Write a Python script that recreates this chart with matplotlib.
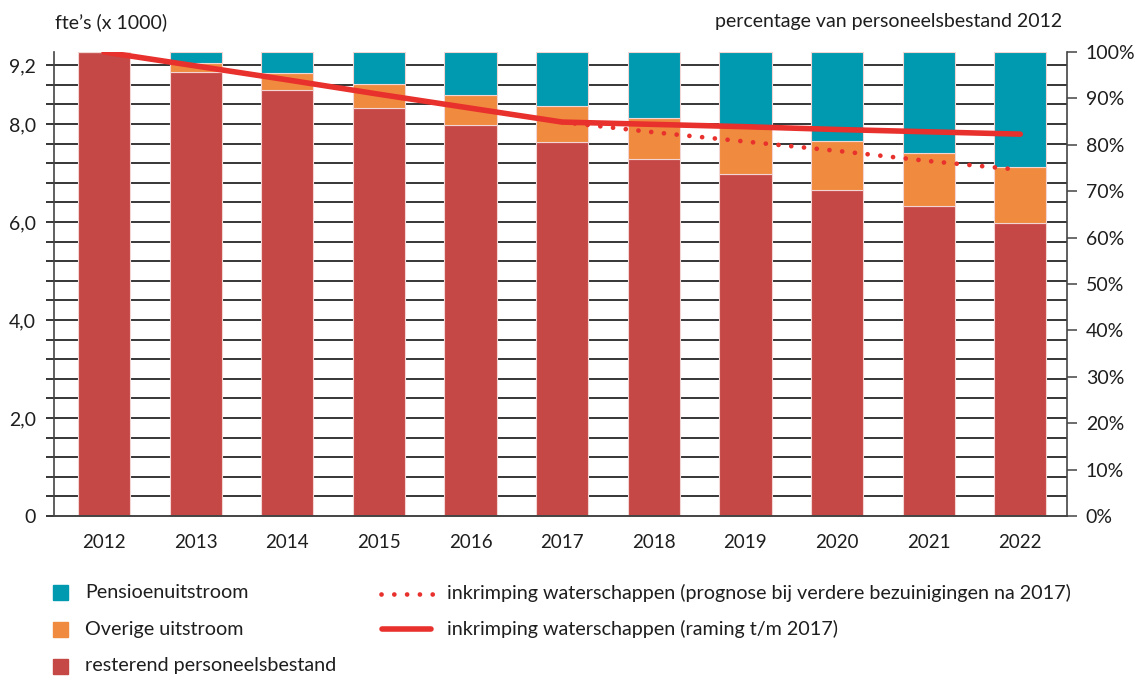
import matplotlib
matplotlib.use("Agg")
import matplotlib.pyplot as plt
import matplotlib.patches as mpatches
from matplotlib.lines import Line2D
import numpy as np

plt.rcParams['font.family'] = ['Lato', 'DejaVu Sans']

years = ['2012', '2013', '2014', '2015', '2016', '2017', '2018', '2019', '2020', '2021', '2022']
# fte's (x 1000)
resterend = [9.47, 9.07, 8.69, 8.33, 7.98, 7.63, 7.29, 6.97, 6.65, 6.33, 5.99]
overige = [0.00, 0.18, 0.35, 0.48, 0.61, 0.74, 0.84, 0.97, 1.00, 1.08, 1.14]
pensioen = [0.00, 0.22, 0.43, 0.66, 0.88, 1.10, 1.34, 1.53, 1.82, 2.06, 2.34]
# percentage of 2012 staff
raming = [100, 97.0, 94.0, 90.9, 87.9, 84.9, 84.4, 83.9, 83.3, 82.8, 82.3]
prognose_years = ['2017', '2018', '2019', '2020', '2021', '2022']
prognose = [84.9, 82.7, 80.7, 78.7, 76.5, 74.6]

left_ticks = [0, 2.0, 4.0, 6.0, 8.0, 9.2]
left_labels = ['0', '2,0', '4,0', '6,0', '8,0', '9,2']
right_ticks = list(range(0, 101, 10))

c_pens = '#009AB0'
c_over = '#F08A3E'
c_rest = '#C54846'
c_line = '#E8302C'
txt_c = '#1e1e1e'

W, H = 1134, 677
fig = plt.figure(figsize=(W / 100, H / 100), dpi=100)


def fx(px):
    return px / W


def fy(py):
    return 1 - py / H


ax = fig.add_axes([fx(54), fy(516), fx(1067) - fx(54), fy(52) - fy(516)])
x = np.arange(len(years))
bw = 0.57
edge = dict(edgecolor='#f3d6d4', linewidth=0.8)
ax.bar(x, resterend, bw, color=c_rest, zorder=2, **edge)
bottom2 = np.array(resterend)
ax.bar(x, overige, bw, bottom=bottom2, color=c_over, zorder=2, **edge)
bottom3 = bottom2 + np.array(overige)
ax.bar(x, pensioen, bw, bottom=bottom3, color=c_pens, zorder=2, **edge)

ax.set_xlim(-0.546, 10.51)
ax.set_ylim(0, 9.47)
ax.set_xticks(x)
ax.set_xticklabels(years, fontsize=13.5, color=txt_c)
ax.tick_params(axis='x', length=0, pad=13)

grid = np.round(np.arange(0.4, 9.21, 0.4), 2)
for g in grid:
    ax.axhline(g, color='black', lw=1.1, zorder=1)
allticks = np.round(np.arange(0, 9.21, 0.4), 2)
ax.set_yticks(allticks)
labs = []
for t in allticks:
    lab = ''
    for lt, ll in zip(left_ticks, left_labels):
        if abs(t - lt) < 1e-6:
            lab = ll
    labs.append(lab)
ax.set_yticklabels(labs, fontsize=14, color=txt_c)
ax.tick_params(axis='y', length=6, width=1.1, color='black', pad=7, direction='out')

for s in ['top', 'right']:
    ax.spines[s].set_visible(False)
ax.spines['left'].set_color('#444444')
ax.spines['left'].set_linewidth(1.2)
ax.spines['bottom'].set_color('#444444')
ax.spines['bottom'].set_linewidth(1.4)

ax2 = ax.twinx()
ax2.set_ylim(0, 100)
ax2.set_yticks(right_ticks)
ax2.set_yticklabels([f'{t}%' for t in right_ticks], fontsize=14, color=txt_c)
ax2.tick_params(axis='y', length=7.5, width=1.1, color='#444444', pad=6)
for s in ['top', 'left', 'bottom']:
    ax2.spines[s].set_visible(False)
ax2.spines['right'].set_color('#444444')
ax2.spines['right'].set_linewidth(1.2)

px = [years.index(y) for y in prognose_years]
ax2.plot(px, prognose, color=c_line, lw=3.4, linestyle=(0, (0.01, 2.7)),
         dash_capstyle='round', zorder=4)
ax2.plot(x, raming, color=c_line, lw=4, solid_capstyle='round', zorder=5)

fig.text(fx(55), fy(22), "fte’s (x 1000)", fontsize=14, color=txt_c, va='center', ha='left')
fig.text(fx(1062), fy(22), 'percentage van personeelsbestand 2012', fontsize=14,
         color=txt_c, va='center', ha='right')

# legend
leg_fs = 14.2
leg_items = [(c_pens, 'Pensioenuitstroom', 592),
             (c_over, 'Overige uitstroom', 629),
             (c_rest, 'resterend personeelsbestand', 666)]
for col, lab, yc in leg_items:
    fig.add_artist(mpatches.Rectangle((fx(53), fy(yc + 7.5)), fx(15), 15 / H,
                                      transform=fig.transFigure, color=col))
    fig.text(fx(85), fy(yc), lab, fontsize=leg_fs, color=txt_c, va='center', ha='left')

fig.add_artist(Line2D([fx(381), fx(434)], [fy(594), fy(594)], transform=fig.transFigure,
                      color=c_line, lw=3.4, linestyle=(0, (0.01, 2.7)), dash_capstyle='round'))
fig.text(fx(447), fy(593), 'inkrimping waterschappen (prognose bij verdere bezuinigingen na 2017)',
         fontsize=leg_fs, color=txt_c, va='center', ha='left')
fig.add_artist(Line2D([fx(382), fx(431)], [fy(629), fy(629)], transform=fig.transFigure,
                      color=c_line, lw=4, solid_capstyle='round'))
fig.text(fx(447), fy(629), 'inkrimping waterschappen (raming t/m 2017)',
         fontsize=leg_fs, color=txt_c, va='center', ha='left')

fig.savefig('out.png', dpi=100)
